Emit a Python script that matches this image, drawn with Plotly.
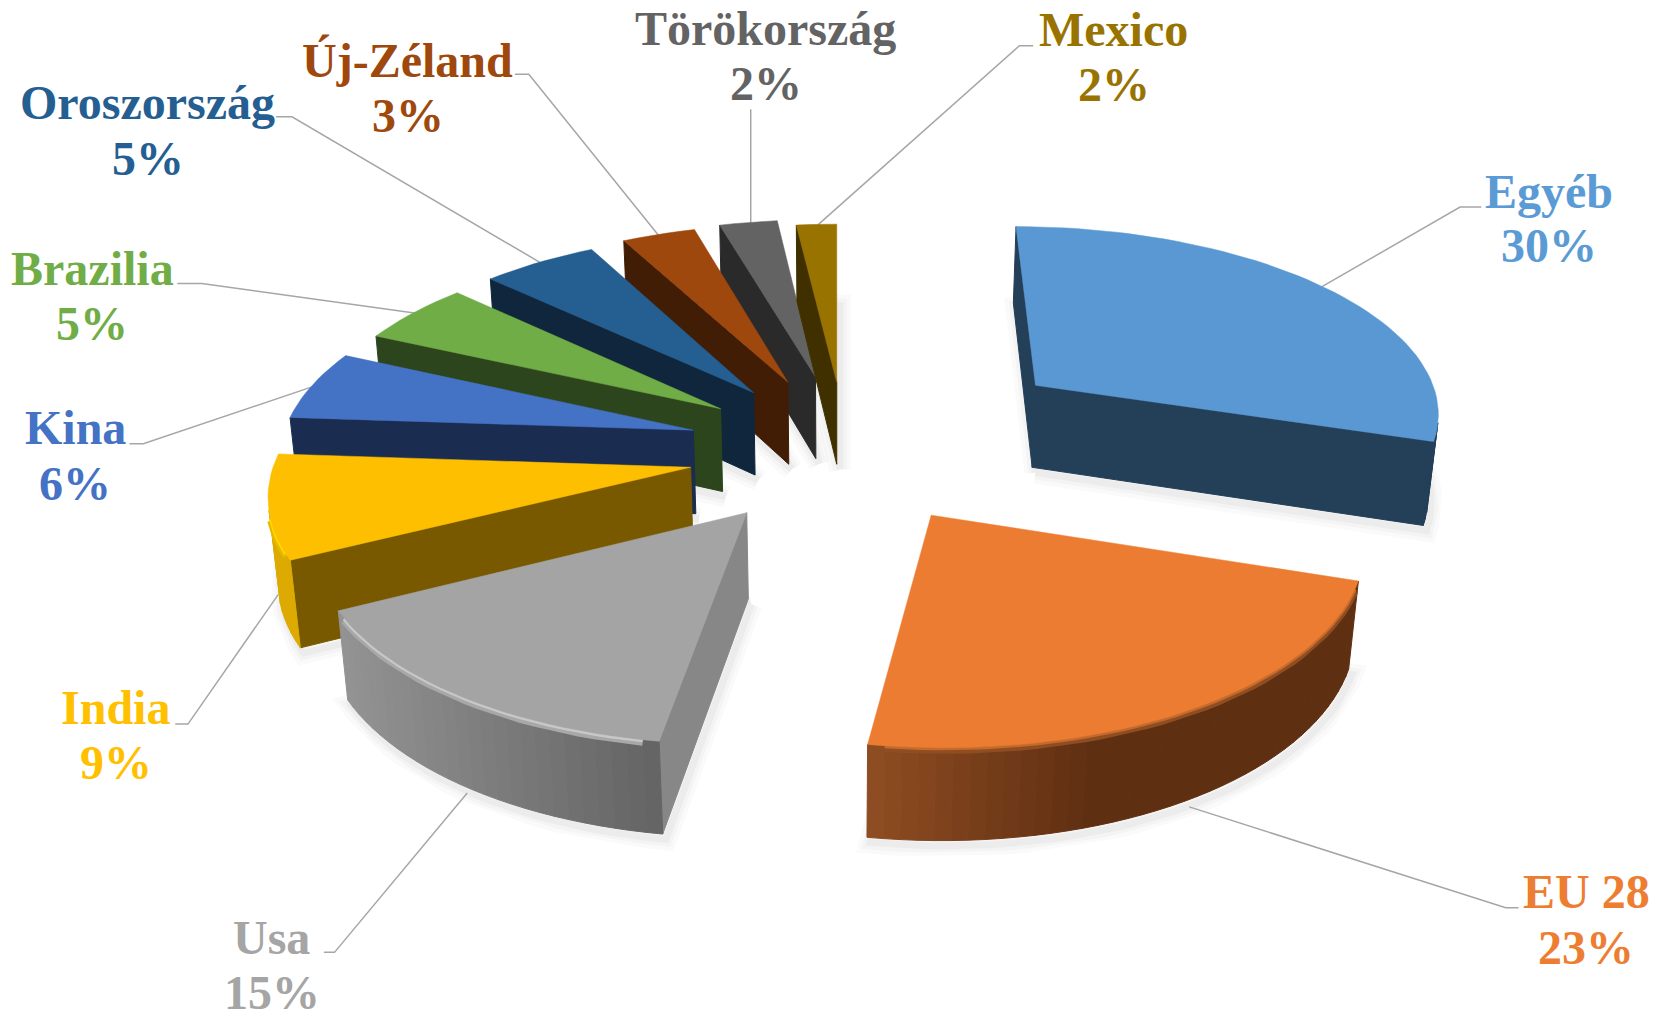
import math
import plotly.graph_objects as go

# ---- data ----
categories = ["Egyéb", "EU 28", "Usa", "India", "Kina", "Brazilia",
              "Oroszország", "Új-Zéland", "Törökország", "Mexico"]
values = [30, 22.5, 15, 8.6, 5.8, 5.2, 5.2, 3.3, 2.6, 1.8]
pct_labels = ["30%", "23%", "15%", "9%", "6%", "5%", "5%", "3%", "2%", "2%"]

# ---- styles ----
top_colors = ["#5a98d4", "#ec7c31", "#a4a4a4", "#fdbf00", "#4472c4",
              "#70ad47", "#255e91", "#9e480e", "#636363", "#997300"]
text_colors = ["#5b9bd5", "#ed7d31", "#a5a5a5", "#ffc000", "#4472c4",
               "#70ad47", "#255e91", "#9e480e", "#636363", "#997300"]
radial_colors = ["#243f58", "#5f2f12", "#878787", "#785900", "#1a2c50",
                 "#2d451d", "#10263c", "#411d05", "#2a2a2a", "#403000"]
arc_left = ["#243f58", "#8f4d22", "#949494", "#dcaa00", "#1a2c50",
            "#2d451d", "#10263c", "#411d05", "#2a2a2a", "#403000"]
arc_right = ["#243f58", "#5f2f12", "#636363", "#dcaa00", "#1a2c50",
             "#2d451d", "#10263c", "#411d05", "#2a2a2a", "#403000"]
arc_reach = [1, 0.45, 1, 1, 1, 1, 1, 1, 1, 1]
rim_soft = [None, "#8f4d22", "#a8a8a8", "#e8b800", None, None, None, None, None, None]
rim_colors = [None, "#c46a2c", "#c8c8c8", "#ffd800", None, None, None, None, None, None]

# exploded offset of each slice (in pie radii), sideways / towards the viewer
pull_x = [0.50, 0.22, -0.21, -0.35, -0.351, -0.288, -0.208, -0.123, -0.0537, 0.0]
pull_z = [-0.325, 0.358, 0.346, 0.118, -0.077, -0.194, -0.283, -0.342, -0.373, -0.342]

# perspective camera
VX, HORIZON = 788.0, -1165.0
D0, DQ, XS = 6.314e-4, 7.1e-5, 0.245
NADIR_Y, DEPTH = 5000.0, 1.09e-5

# labels: name line, percent line, leader
label_x = [1459, 1494, 256, 109, 71, 87, 139, 384, 721, 1049]
name_y = [180, 840, 883, 666, 403, 253, 97, 57, 27, 28]
pct_y = [231, 892, 935, 718, 455, 305, 149, 109, 79, 80]
leaders = [
    [(1395, 195), (1375, 195), (1245, 270)],
    [(1430, 855), (1418, 855), (1120, 760)],
    [(305, 897), (315, 897), (440, 747)],
    [(165, 682), (177, 682), (262, 560)],
    [(122, 418), (135, 418), (298, 363)],
    [(167, 267), (190, 267), (392, 295)],
    [(260, 110), (275, 110), (510, 248)],
    [(485, 70), (498, 70), (622, 224)],
    [(707, 103), (707, 213)],
    [(973, 43), (960, 43), (770, 212)],
]
FONT = "Liberation Serif"
FONT_SIZE = 48


def project(x, z):
    t = 1.0 / (D0 - DQ * z)
    return VX + XS * x * t, HORIZON + t


def lower(p):
    t = p[1] - HORIZON
    a = DEPTH * t
    return p[0] + a * (VX - p[0]), p[1] + a * (NADIR_Y - p[1])


def area(pts):
    return sum(pts[i][0] * pts[(i + 1) % len(pts)][1] - pts[(i + 1) % len(pts)][0] * pts[i][1]
               for i in range(len(pts)))


def rgb(h):
    return [int(h[i:i + 2], 16) for i in (1, 3, 5)]


def mix(a, b, f):
    ca, cb = rgb(a), rgb(b)
    return "rgb(%d,%d,%d)" % tuple(round(ca[i] + (cb[i] - ca[i]) * f) for i in range(3))


def poly(pts, fill, line=None, width=1.0):
    xs = [p[0] for p in pts] + [pts[0][0]]
    ys = [p[1] for p in pts] + [pts[0][1]]
    return go.Scatter(x=xs, y=ys, mode="lines", fill="toself", fillcolor=fill,
                      line=dict(color=line or fill, width=width), hoverinfo="skip",
                      showlegend=False)


fig = go.Figure()

# slices as geometry from the values
total = sum(values)
angles = []
acc = 0.0
for v in values:
    angles.append((acc, acc + v / total * 2 * math.pi))
    acc += v / total * 2 * math.pi

shapes3d = {}
for i, (a0, a1) in enumerate(angles):
    n = max(3, int((a1 - a0) / math.radians(2)))
    arc = [project(pull_x[i] + math.sin(a0 + (a1 - a0) * k / n),
                   pull_z[i] - math.cos(a0 + (a1 - a0) * k / n)) for k in range(n + 1)]
    apex = project(pull_x[i], pull_z[i])
    shapes3d[i] = (apex, arc)

# soft shadows, behind everything
for i, (apex, arc) in shapes3d.items():
    bottom = [lower(p) for p in [apex] + arc]
    pts = [(p[0] + 3, p[1] + 5) for p in bottom] + [(bottom[0][0] + 3, bottom[0][1] + 5)]
    for w, al in ((22, 0.018), (14, 0.025), (7, 0.03)):
        fig.add_trace(go.Scatter(x=[p[0] for p in pts], y=[p[1] for p in pts], mode="lines",
                                 line=dict(color="rgba(0,0,0,%g)" % al, width=w),
                                 hoverinfo="skip", showlegend=False))

# leader lines
for pts in leaders:
    fig.add_trace(go.Scatter(x=[p[0] for p in pts], y=[p[1] for p in pts], mode="lines",
                             line=dict(color="#a6a6a6", width=1.5),
                             hoverinfo="skip", showlegend=False))

# far to near
for i in sorted(range(len(values)), key=lambda k: pull_z[k]):
    apex, arc = shapes3d[i]
    top = [apex] + arc
    sign = area(top)
    # radial walls
    for A, B in ((apex, arc[0]), (arc[-1], apex)):
        quad = [A, lower(A), lower(B), B]
        if area(quad) * sign > 0:
            fig.add_trace(poly(quad, radial_colors[i]))
    # outer wall, in bands
    bands = []
    for k in range(len(arc) - 1):
        quad = [arc[k], lower(arc[k]), lower(arc[k + 1]), arc[k + 1]]
        if area(quad) * sign > 0:
            bands.append(quad)
    if bands:
        xs = [p[0] for q in bands for p in q]
        lo, hi = min(xs), max(xs)
        for q in bands:
            mid = sum(p[0] for p in q) / 4
            f = min(1.0, (mid - lo) / max(hi - lo, 1e-6) / arc_reach[i])
            c = mix(arc_left[i], arc_right[i], f)
            fig.add_trace(poly(q, c))
    if rim_colors[i] and bands:
        vis = [arc[k] for k in range(len(arc) - 1)
               if area([arc[k], lower(arc[k]), lower(arc[k + 1]), arc[k + 1]]) * sign > 0][1:]
        fig.add_trace(go.Scatter(x=[p[0] for p in vis], y=[p[1] + 3 for p in vis], mode="lines",
                                 line=dict(color=rim_soft[i], width=6),
                                 hoverinfo="skip", showlegend=False))
        fig.add_trace(go.Scatter(x=[p[0] for p in vis], y=[p[1] + 1 for p in vis], mode="lines",
                                 line=dict(color=rim_colors[i], width=3),
                                 hoverinfo="skip", showlegend=False))
    fig.add_trace(poly(top, top_colors[i], width=0.5))

# labels
for i, name in enumerate(categories):
    for yy, txt in ((name_y[i], name), (pct_y[i], pct_labels[i])):
        fig.add_annotation(x=label_x[i], y=yy, text=txt, showarrow=False, xref="x", yref="y",
                           xanchor="center", yanchor="middle",
                           font=dict(family=FONT, size=FONT_SIZE, color=text_colors[i], weight=700))

fig.update_xaxes(range=[0, 1568], visible=False, fixedrange=True)
fig.update_yaxes(range=[956, 0], visible=False, fixedrange=True)
fig.update_layout(width=1665, height=1015, margin=dict(l=0, r=0, t=0, b=0),
                  paper_bgcolor="white", plot_bgcolor="white", showlegend=False)
fig.write_html("out.html", config=dict(displayModeBar=False),
               post_script="document.body.style.margin='0';document.body.style.overflow='hidden';")
